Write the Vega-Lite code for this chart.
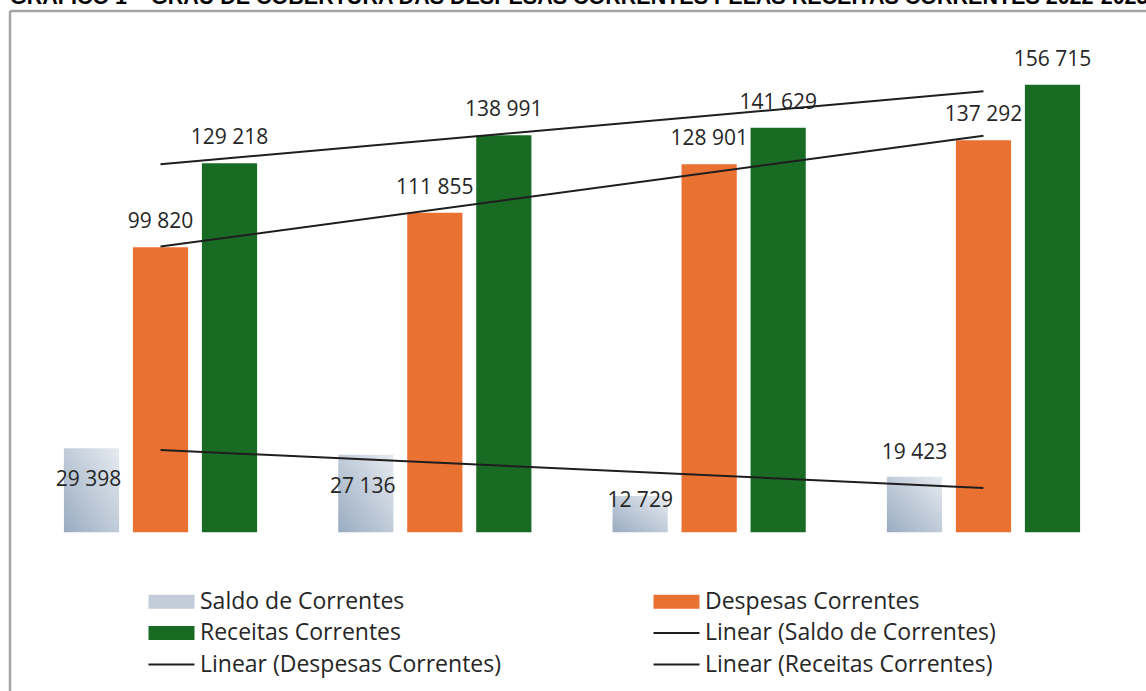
{
  "$schema": "https://vega.github.io/schema/vega-lite/v6.json",
  "width": 1136,
  "height": 680,
  "autosize": {"type": "none"},
  "padding": {"left": 10, "top": 11, "right": 0, "bottom": 0},
  "background": "white",
  "config": {
    "locale": {"number": {"decimal": ",", "thousands": " ", "grouping": [3], "currency": ["", " €"]}},
    "view": {"stroke": "#a5a5a5", "strokeWidth": 2.5, "strokeDash": [1136, 1816, 680, 0]},
    "text": {"font": "Open Sans", "fontSize": 21, "color": "#262626"}
  },
  "title": {
    "text": "GRÁFICO 1 – GRAU DE COBERTURA DAS DESPESAS CORRENTES PELAS RECEITAS CORRENTES 2022-2025",
    "anchor": "start",
    "frame": "group",
    "font": "Liberation Sans",
    "fontSize": 21.5,
    "fontWeight": "bold",
    "color": "#000000",
    "offset": 3
  },
  "datasets": {
    "bars": [
      {"year": 2022, "series": "Saldo de Correntes", "value": 29398},
      {"year": 2022, "series": "Despesas Correntes", "value": 99820},
      {"year": 2022, "series": "Receitas Correntes", "value": 129218},
      {"year": 2023, "series": "Saldo de Correntes", "value": 27136},
      {"year": 2023, "series": "Despesas Correntes", "value": 111855},
      {"year": 2023, "series": "Receitas Correntes", "value": 138991},
      {"year": 2024, "series": "Saldo de Correntes", "value": 12729},
      {"year": 2024, "series": "Despesas Correntes", "value": 128901},
      {"year": 2024, "series": "Receitas Correntes", "value": 141629},
      {"year": 2025, "series": "Saldo de Correntes", "value": 19423},
      {"year": 2025, "series": "Despesas Correntes", "value": 137292},
      {"year": 2025, "series": "Receitas Correntes", "value": 156715}
    ],
    "trend": [
      {"year": 2022, "series": "Linear (Saldo de Correntes)", "value": 28821},
      {"year": 2025, "series": "Linear (Saldo de Correntes)", "value": 15522},
      {"year": 2022, "series": "Linear (Despesas Correntes)", "value": 100048},
      {"year": 2025, "series": "Linear (Despesas Correntes)", "value": 138886},
      {"year": 2022, "series": "Linear (Receitas Correntes)", "value": 128869},
      {"year": 2025, "series": "Linear (Receitas Correntes)", "value": 154408}
    ]
  },
  "encoding": {
    "x": {"field": "year", "type": "ordinal", "axis": null,
      "scale": {"paddingInner": 0.24544, "paddingOuter": 0.19322, "align": 0.4433}},
    "y": {"field": "value", "type": "quantitative", "axis": null,
      "scale": {"domain": [-55570, 182530], "nice": false, "zero": false}}
  },
  "layer": [
    {
      "data": {"name": "bars"},
      "transform": [{"filter": "datum.series === 'Saldo de Correntes'"}],
      "mark": {"type": "bar", "fill": {"gradient": "linear", "x1": 0, "y1": 1, "x2": 1, "y2": 0,
        "stops": [{"offset": 0, "color": "#9aacc2"}, {"offset": 1, "color": "#e6ebf0"}]}},
      "encoding": {
        "xOffset": {"field": "series", "type": "nominal",
          "scale": {"domain": ["Saldo de Correntes", "Despesas Correntes", "Receitas Correntes"], "paddingInner": 0.2, "paddingOuter": 0.1}}
      }
    },
    {
      "data": {"name": "bars"},
      "transform": [{"filter": "datum.series !== 'Saldo de Correntes'"}],
      "mark": {"type": "bar"},
      "encoding": {
        "xOffset": {"field": "series", "type": "nominal",
          "scale": {"domain": ["Saldo de Correntes", "Despesas Correntes", "Receitas Correntes"], "paddingInner": 0.2, "paddingOuter": 0.1}},
        "color": {"field": "series", "type": "nominal",
          "scale": {"domain": ["Saldo de Correntes", "Despesas Correntes", "Receitas Correntes", "Linear (Saldo de Correntes)", "Linear (Despesas Correntes)", "Linear (Receitas Correntes)"],
            "range": ["#c2cdd9", "#e97132", "#196b24", "#1e1e1e", "#1e1e1e", "#1e1e1e"]},
          "legend": {
            "orient": "none", "legendX": 134, "legendY": 579, "columns": 2, "direction": "horizontal",
            "columnPadding": 148, "rowPadding": 7.5,
            "title": null, "labelFont": "Open Sans", "labelFontSize": 23, "labelColor": "#262626", "labelLimit": 0,
            "symbolSize": 196, "labelOffset": 33, "symbolStrokeWidth": 0,
            "encode": {
              "symbols": {"update": {
                "shape": {"signal": "indexof(datum.value, 'Linear') === 0 ? 'M-1,-0.15H5.57V0.15H-1Z' : 'M-1,-1H5.57V1H-1Z'"},
                "fill": [
                  {"test": "datum.value === 'Saldo de Correntes'", "value": {"gradient": "linear", "x1": 0, "y1": 0.5, "x2": 1, "y2": 0.5, "stops": [{"offset": 0, "color": "#a2b3c7"}, {"offset": 1, "color": "#e2e7ed"}]}},
                  {"scale": "color", "field": "value"}
                ],
                "strokeWidth": {"value": 0},
                "opacity": {"value": 1}
              }}
            }
          }
        }
      }
    },
    {
      "data": {"name": "bars"},
      "transform": [{"filter": "datum.series !== 'Saldo de Correntes'"}],
      "mark": {"type": "text", "baseline": "middle", "dy": -25},
      "encoding": {
        "xOffset": {"field": "series", "type": "nominal",
          "scale": {"domain": ["Saldo de Correntes", "Despesas Correntes", "Receitas Correntes"], "paddingInner": 0.2, "paddingOuter": 0.1}},
        "text": {"field": "value", "type": "quantitative", "format": ",.0f"}
      }
    },
    {
      "data": {"name": "bars"},
      "transform": [{"filter": "datum.series === 'Saldo de Correntes' && datum.year <= 2023"}],
      "mark": {"type": "text", "baseline": "middle", "dy": 32, "dx": -3},
      "encoding": {
        "xOffset": {"field": "series", "type": "nominal",
          "scale": {"domain": ["Saldo de Correntes", "Despesas Correntes", "Receitas Correntes"], "paddingInner": 0.2, "paddingOuter": 0.1}},
        "text": {"field": "value", "type": "quantitative", "format": ",.0f"}
      }
    },
    {
      "data": {"name": "bars"},
      "transform": [{"filter": "datum.series === 'Saldo de Correntes' && datum.year === 2024"}],
      "mark": {"type": "text", "baseline": "middle", "dy": 5},
      "encoding": {
        "xOffset": {"field": "series", "type": "nominal",
          "scale": {"domain": ["Saldo de Correntes", "Despesas Correntes", "Receitas Correntes"], "paddingInner": 0.2, "paddingOuter": 0.1}},
        "text": {"field": "value", "type": "quantitative", "format": ",.0f"}
      }
    },
    {
      "data": {"name": "bars"},
      "transform": [{"filter": "datum.series === 'Saldo de Correntes' && datum.year === 2025"}],
      "mark": {"type": "text", "baseline": "middle", "dy": -24},
      "encoding": {
        "xOffset": {"field": "series", "type": "nominal",
          "scale": {"domain": ["Saldo de Correntes", "Despesas Correntes", "Receitas Correntes"], "paddingInner": 0.2, "paddingOuter": 0.1}},
        "text": {"field": "value", "type": "quantitative", "format": ",.0f"}
      }
    },
    {
      "data": {"name": "trend"},
      "mark": {"type": "line", "strokeWidth": 2},
      "encoding": {
        "color": {"field": "series", "type": "nominal",
          "scale": {"domain": ["Saldo de Correntes", "Despesas Correntes", "Receitas Correntes", "Linear (Saldo de Correntes)", "Linear (Despesas Correntes)", "Linear (Receitas Correntes)"],
            "range": ["#c2cdd9", "#e97132", "#196b24", "#1e1e1e", "#1e1e1e", "#1e1e1e"]}}
      }
    }
  ]
}
